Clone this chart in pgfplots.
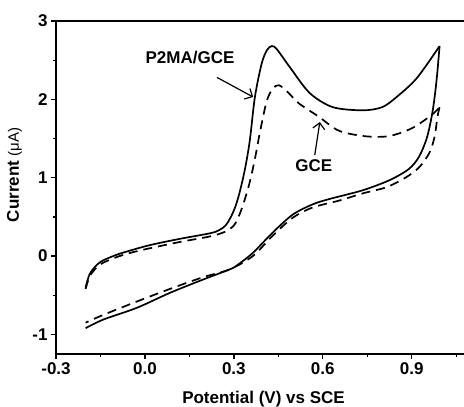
\documentclass[border=0pt]{standalone}
\usepackage{fontspec}
\setmainfont{Liberation Sans}
\usepackage{pgfplots}
\pgfplotsset{compat=1.18}
\usetikzlibrary{arrows.meta}

\begin{document}
\begin{tikzpicture}
\begin{axis}[
  at={(56pt,53pt)}, anchor=south west,
  width=415pt, height=333pt, scale only axis,
  xmin=-0.3, xmax=1.1, ymin=-1.25, ymax=3,
  xtick={-0.3,0,0.3,0.6,0.9}, xticklabels={-0.3,0.0,0.3,0.6,0.9},
  minor xtick={-0.15,0.15,0.45,0.75,1.05},
  ytick={-1,0,1,2,3}, yticklabels={-1,0,1,2,3},
  minor ytick={-0.5,0.5,1.5,2.5},
  tick pos=left, tick align=outside,
  major tick length=5pt, minor tick length=3pt,
  axis line style={line width=1.6pt},
  every tick/.style={line width=1.3pt, black},
  ticklabel style={font=\bfseries\fontsize{17}{20}\selectfont},
  label style={font=\fontsize{17}{20}\selectfont},
  xlabel={\bfseries Potential (V) vs SCE},
  ylabel={\bfseries Current {\mdseries\fontsize{15}{17}\selectfont(μA)}},
  ylabel style={at={(axis description cs:-0.10,0.538)}, anchor=center},
  xlabel style={at={(axis description cs:0.5,-0.135)}, anchor=center},
  clip=false,
]
% P2MA/GCE forward
\addplot[black, line width=1.7pt, smooth, tension=0.5] coordinates {
(-0.200,-0.40) (-0.185,-0.22) (-0.152,-0.08) (-0.10,0.01) (-0.05,0.07)
(0.017,0.14) (0.118,0.22) (0.219,0.29) (0.25,0.33) (0.272,0.39)
(0.29,0.50) (0.305,0.63) (0.32,0.82) (0.338,1.12) (0.354,1.48)
(0.371,2.03) (0.394,2.46) (0.412,2.63) (0.428,2.68) (0.445,2.64)
(0.489,2.41) (0.556,2.08) (0.634,1.90) (0.735,1.86) (0.80,1.90)
(0.849,2.03) (0.917,2.27) (0.994,2.68)};
% P2MA/GCE reverse
\addplot[black, line width=1.7pt, smooth, tension=0.5] coordinates {
(0.994,2.68) (0.984,2.25) (0.971,1.86) (0.952,1.52) (0.925,1.27)
(0.89,1.11) (0.826,0.97) (0.735,0.84) (0.624,0.73) (0.566,0.66)
(0.499,0.53) (0.431,0.30) (0.364,0.04) (0.31,-0.12) (0.286,-0.17)
(0.196,-0.30) (0.084,-0.47) (-0.027,-0.66) (-0.14,-0.81) (-0.2,-0.92)};
% GCE forward
\addplot[black, line width=1.7pt, dash pattern=on 9pt off 6pt, smooth, tension=0.5] coordinates {
(-0.200,-0.42) (-0.185,-0.25) (-0.152,-0.11) (-0.10,-0.02) (-0.05,0.04)
(0.017,0.10) (0.118,0.18) (0.219,0.25) (0.27,0.31) (0.30,0.39)
(0.318,0.52) (0.335,0.70) (0.352,0.92) (0.37,1.22) (0.388,1.58)
(0.411,1.98) (0.432,2.14) (0.452,2.18) (0.48,2.10) (0.519,1.95)
(0.586,1.78) (0.654,1.60) (0.741,1.53) (0.822,1.53) (0.90,1.63)
(0.967,1.80) (0.994,1.90)};
% GCE reverse
\addplot[black, line width=1.7pt, dash pattern=on 9pt off 6pt, smooth, tension=0.5] coordinates {
(0.994,1.90) (0.987,1.78) (0.977,1.52) (0.96,1.32) (0.927,1.14)
(0.883,1.01) (0.816,0.88) (0.735,0.80) (0.657,0.71) (0.566,0.62)
(0.499,0.49) (0.431,0.26) (0.364,0.00) (0.286,-0.17) (0.196,-0.27)
(0.084,-0.42) (-0.027,-0.58) (-0.14,-0.75) (-0.2,-0.85)};
% annotations
\node[font=\bfseries\fontsize{17}{20}\selectfont] at (axis cs:0.152,2.54) {P2MA/GCE};
\draw[-{Straight Barb[length=6pt,width=12pt]}, line width=1.2pt] (axis cs:0.243,2.28) -- (axis cs:0.365,2.03);
\node[font=\bfseries\fontsize{17}{20}\selectfont] at (axis cs:0.57,1.16) {GCE};
\draw[-{Straight Barb[length=6pt,width=12pt]}, line width=1.2pt] (axis cs:0.573,1.29) -- (axis cs:0.59,1.71);
\end{axis}
\pgfresetboundingbox
\useasboundingbox (0,0) rectangle (464pt,407pt);
\end{tikzpicture}
\end{document}
